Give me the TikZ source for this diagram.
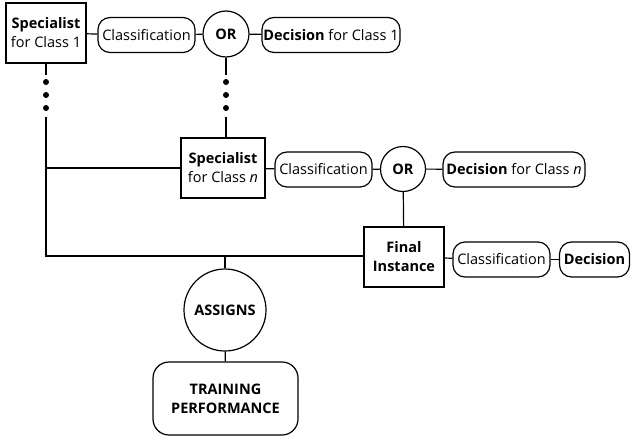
\documentclass[tikz,border=0pt]{standalone}
\usepackage{fontspec}
\setmainfont{Open Sans}
\newcommand{\fs}{\fontsize{14.5}{19}\selectfont}
\begin{document}
\begin{tikzpicture}[x=1pt,y=-1pt,line width=1.2pt,
  box/.style={draw,inner sep=0pt,align=center,font=\fs},
  pill/.style={draw,rounded corners=12pt,inner sep=0pt,minimum height=35pt,font=\fs},
  orc/.style={draw,circle,inner sep=0pt,minimum size=46pt,font=\bfseries\fs},
  dot/.style={circle,fill,inner sep=0pt,minimum size=6pt}]
\useasboundingbox (0,0) rectangle (631,436);
% row 1
\node[box,minimum width=80pt,minimum height=60pt] (s1) at (46,33) {\textbf{Specialist}\\for Class 1};
\node[pill,minimum width=97pt] (c1) at (146.5,35) {Classification};
\node[orc] (o1) at (226,34) {OR};
\node[pill,minimum width=138pt] (d1) at (331,35) {\textbf{Decision} for Class 1};
% row n
\node[box,minimum width=84pt,minimum height=60pt] (sn) at (223,168) {\textbf{Specialist}\\for Class \textit{n}};
\node[pill,minimum width=97pt] (cn) at (323.5,169.5) {Classification};
\node[orc,minimum size=45pt] (on) at (403,169) {OR};
\node[pill,minimum width=142pt] (dn) at (514,169.5) {\textbf{Decision} for Class \textit{n}};
% final
\node[box,minimum width=80pt,minimum height=60pt,font=\bfseries\fs] (fi) at (404,257) {Final\\Instance};
\node[pill,minimum width=97pt] (cf) at (501.5,259.5) {Classification};
\node[pill,minimum width=70pt,font=\bfseries\fs] (df) at (594.5,259.5) {Decision};
% bottom
\node[orc,minimum size=82pt] (as) at (225,310) {ASSIGNS};
\node[box,rounded corners=16pt,minimum width=145pt,minimum height=73pt,font=\bfseries\fs,align=center] (tp) at (225.5,398.5) {TRAINING\\PERFORMANCE};
% dots
\node[dot] (a1) at (46,82) {}; \node[dot] (a2) at (46,95) {}; \node[dot] (a3) at (46,108) {};
\node[dot] (b1) at (226,82) {}; \node[dot] (b2) at (226,95) {}; \node[dot] (b3) at (226,108) {};
\coordinate (a0) at (46,75); \coordinate (a4) at (46,117);
\coordinate (b0) at (226,75); \coordinate (b4) at (226,117);
\coordinate (cn1) at (46,168); \coordinate (cb) at (46,256); \coordinate (cm) at (225,256);
% connectors
\draw (s1) -- (c1); \draw (c1) -- (o1); \draw (o1) -- (d1);
\draw (sn) -- (cn); \draw (cn) -- (on); \draw (on) -- (dn);
\draw (fi) -- (cf); \draw (cf) -- (df);
\draw (on) -- (fi);
\draw (s1.south) -- (a0);
\draw (o1.south) -- (b0);
\draw (b4) -- (b4 |- sn.north);
\draw (a4) -- (cb) -- (cb -| fi.west);
\draw (cn1) -- (sn.west);
\draw (cm) -- (as.north);
\draw (as) -- (tp);
\end{tikzpicture}
\end{document}
